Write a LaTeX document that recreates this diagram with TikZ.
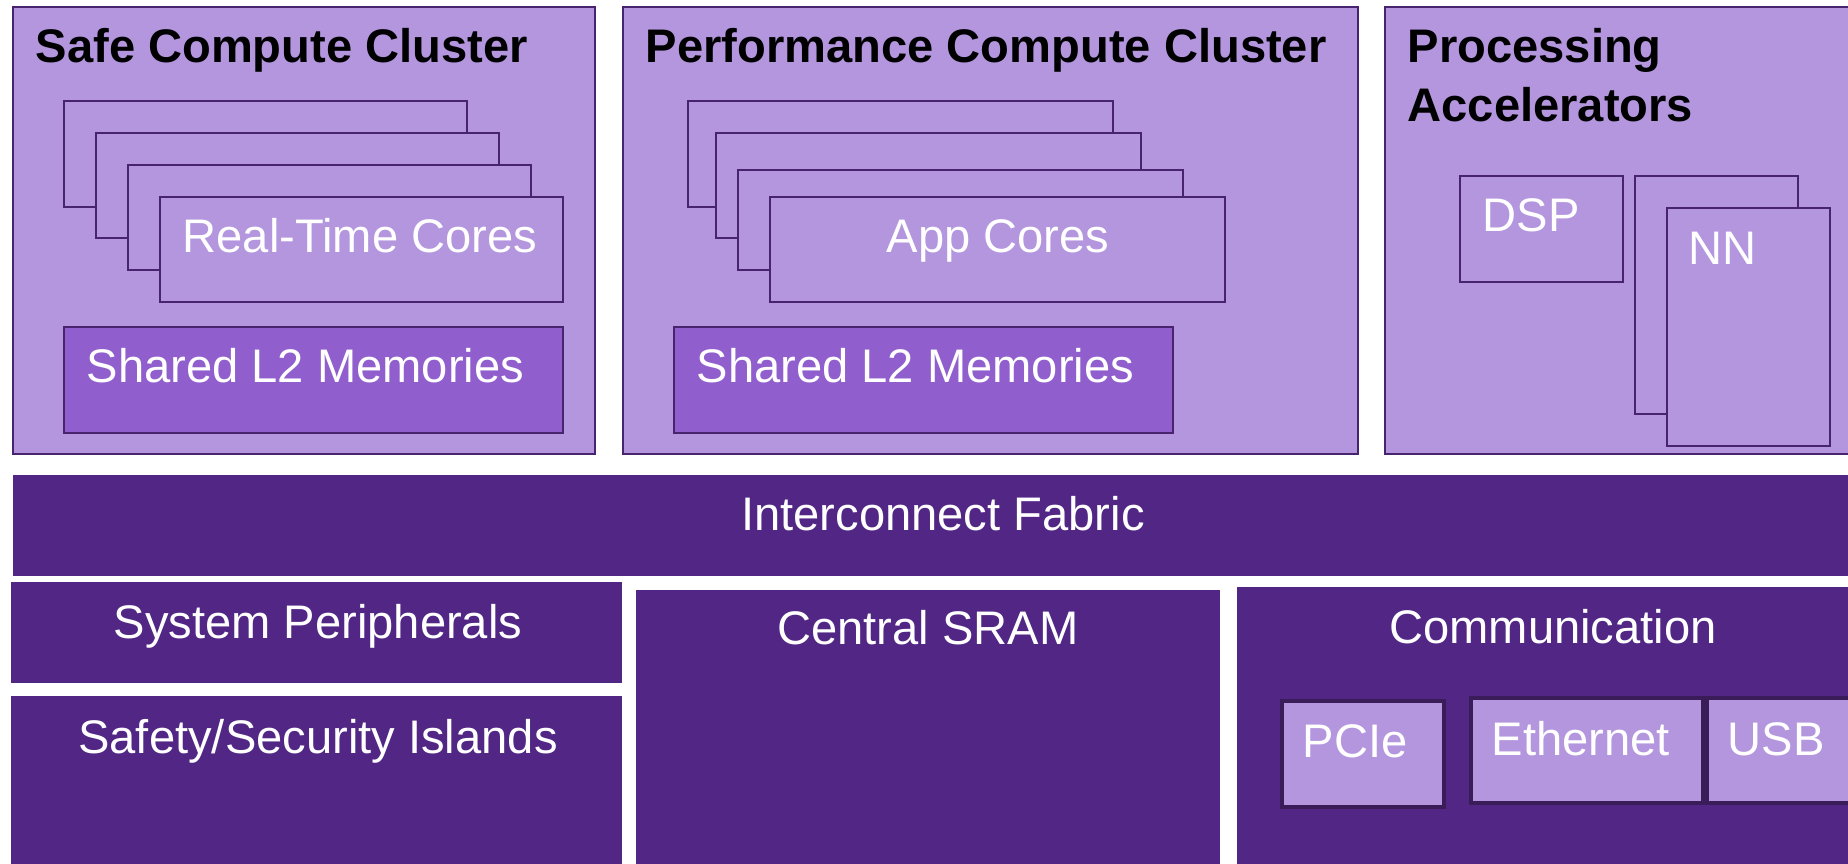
\documentclass[tikz,border=0pt]{standalone}
\usepackage{fontspec}
\setmainfont{Liberation Sans}
\usepackage{tikz}
\usepackage{xcolor}
\definecolor{socLight}{RGB}{180,150,222}
\definecolor{socMid}{RGB}{145,95,205}
\definecolor{socDark}{RGB}{81,38,132}
\definecolor{socEdge}{RGB}{72,35,110}
\tikzset{cluster/.style={draw=socEdge,line width=0.8pt,fill=socLight},
 core/.style={draw=socEdge,line width=0.7pt,fill=socLight},
 mem/.style={draw=socEdge,line width=0.7pt,fill=socMid},
 block/.style={fill=socDark},
 port/.style={draw=socEdge!80!black,line width=1pt,fill=socLight},
 title/.style={anchor=base west,inner sep=0pt,font=\bfseries\fontsize{13.4}{16}\selectfont},
 tag/.style={inner sep=0pt,text=white,font=\fontsize{13.4}{16}\selectfont},
 }

\begin{document}
\begin{tikzpicture}[x=0.01cm,y=-0.01cm]
        \useasboundingbox (0,0) rectangle (1848,864);
        \clip (0,0) rectangle (1848,864);
        \draw[cluster] (13,7) rectangle (595,454);
        \draw[core] (64,101) rectangle (467,207);
        \draw[core] (96,133) rectangle (499,238);
        \draw[core] (128,165) rectangle (531,270);
        \draw[core] (160,197) rectangle (563,302);
        \draw[mem] (64,327) rectangle (563,433);
        \node[title] (safe) at (35,63) {Safe Compute Cluster};
        \node[tag,anchor=base west] (rtcores) at (182,253) {Real-Time Cores};
        \node[tag,anchor=base west] (safel2) at (86,383) {Shared L2 Memories};
        \draw[cluster] (623,7) rectangle (1358,454);
        \draw[core] (688,101) rectangle (1113,207);
        \draw[core] (716,133) rectangle (1141,238);
        \draw[core] (738,170) rectangle (1183,270);
        \draw[core] (770,197) rectangle (1225,302);
        \draw[mem] (674,327) rectangle (1173,433);
        \node[title] (perf) at (645,63) {Performance Compute Cluster};
        \node[tag,anchor=base] (appcores) at (998,253) {App Cores};
        \node[tag,anchor=base west] (perfl2) at (696,383) {Shared L2 Memories};
        \draw[cluster] (1385,7) rectangle (1860,454);
        \draw[core] (1460,176) rectangle (1623,282);
        \draw[core] (1635,176) rectangle (1798,414);
        \draw[core] (1667,208) rectangle (1830,446);
        \node[title] (proc) at (1407,63) {Processing};
        \node[title] (accel) at (1407,122) {Accelerators};
        \node[tag,anchor=base west] (dsp) at (1482,232) {DSP};
        \node[tag,anchor=base west] (nn) at (1688,265) {NN};
        \fill[block] (13,475) rectangle (1860,576);
        \node[tag,anchor=base] (fabric) at (943,531) {Interconnect Fabric};
        \fill[block] (11,582) rectangle (622,683);
        \node[tag,anchor=base] (sysper) at (318,638) {System Peripherals};
        \fill[block] (11,696) rectangle (622,870);
        \node[tag,anchor=base] (islands) at (318,753) {Safety/Security Islands};
        \fill[block] (636,590) rectangle (1220,870);
        \node[tag,anchor=base] (sram) at (928,645) {Central SRAM};
        \fill[block] (1237,587) rectangle (1860,870);
        \node[tag,anchor=base] (comm) at (1553,643) {Communication};
        \draw[port] (1282,701) rectangle (1444,807);
        \draw[port] (1471,698) rectangle (1703,803);
        \draw[port] (1707,698) rectangle (1860,803);
        \node[tag,anchor=base west] (pcie) at (1302,757) {PCIe};
        \node[tag,anchor=base west] (eth) at (1491,755) {Ethernet};
        \node[tag,anchor=base west] (usb) at (1727,755) {USB};
    \end{tikzpicture}
\end{document}
